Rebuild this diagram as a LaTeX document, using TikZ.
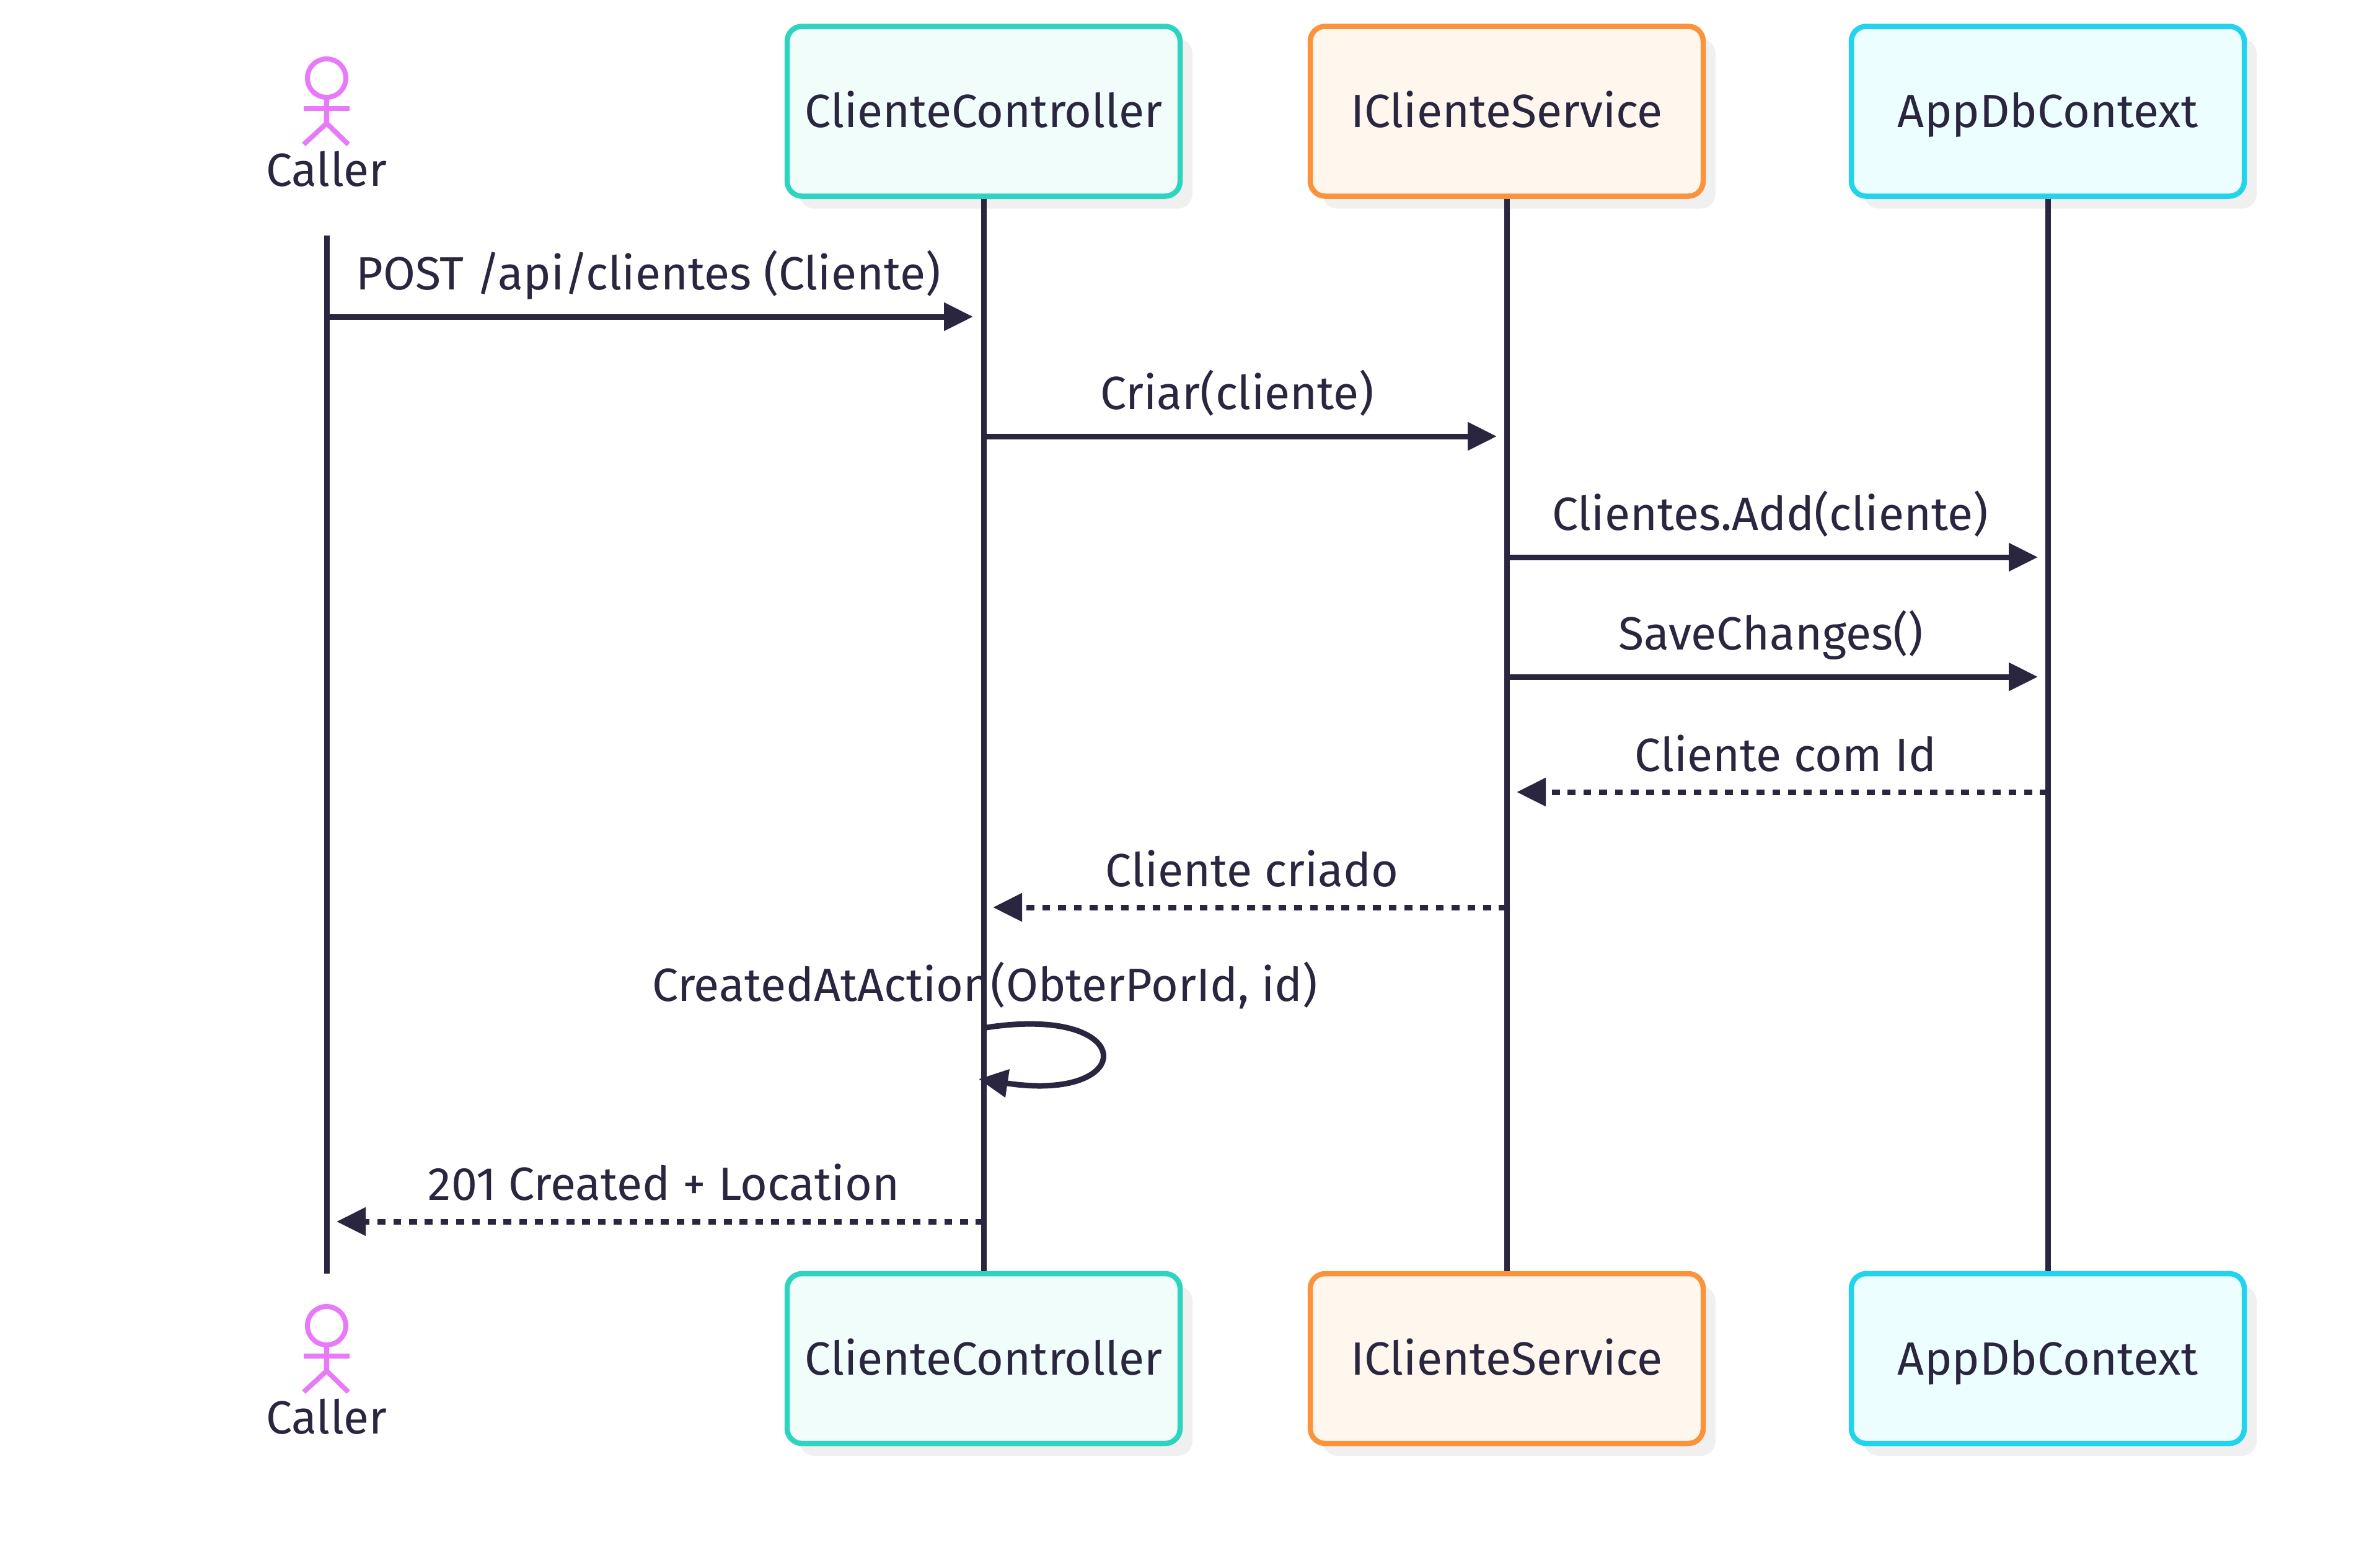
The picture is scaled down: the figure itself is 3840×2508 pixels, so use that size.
\documentclass[tikz,border=0pt]{standalone}
\usepackage{fontspec}
\setmainfont{Fira Sans}
\usetikzlibrary{arrows.meta,shadows}
\definecolor{ink}{HTML}{2A2640}
\definecolor{tealline}{HTML}{2DD4BF}
\definecolor{tealfill}{HTML}{F0FDFA}
\definecolor{orangeline}{HTML}{FB923C}
\definecolor{orangefill}{HTML}{FFF7ED}
\definecolor{cyanline}{HTML}{22D3EE}
\definecolor{cyanfill}{HTML}{ECFEFF}
\definecolor{figure}{HTML}{E879F9}

\begin{document}
\begin{tikzpicture}[x=.1mm,y=.1mm,
 font=\fontsize{21.4}{25}\selectfont,text=ink,
 part/.style={rounded corners=2.4mm,line width=.85mm,minimum width=63.4mm,minimum height=27.4mm,
              inner sep=0pt,text height=5.2mm,text depth=0pt,
              general shadow={shadow xshift=2mm,shadow yshift=-2mm,fill=black!6}},
 ctrl/.style={part,draw=tealline,fill=tealfill},
 svc/.style={part,draw=orangeline,fill=orangefill},
 db/.style={part,draw=cyanline,fill=cyanfill},
 life/.style={draw=ink,line width=.9mm},
 msg/.style={draw=ink,line width=.9mm,-{Triangle[length=4.7mm,width=4.4mm]}},
 reply/.style={msg,dash pattern=on 1.27mm off 1.27mm},
 lab/.style={inner sep=0pt,anchor=base},
 caller figure/.pic={
  \draw[figure,line width=.8mm] (0,0) circle (31);
  \draw[figure,line width=.8mm] (0,-31) -- (0,-73) (-37,-49) -- (37,-49)
   (-37,-107) -- (0,-73) -- (35,-107);
 }]
\useasboundingbox (0,0) rectangle (3840,-2508);

\pic at (527,-126) {caller figure};
\node[lab] (callerA) at (527,-300) {Caller};
\node[ctrl] (ctrlA) at (1587,-179.5) {ClienteController};
\node[svc] (svcA) at (2431,-179.5) {IClienteService};
\node[db] (dbA) at (3304,-179.5) {AppDbContext};

\pic at (527,-2139) {caller figure};
\node[lab] (callerB) at (527,-2313) {Caller};
\node[ctrl] (ctrlB) at (1587,-2192) {ClienteController};
\node[svc] (svcB) at (2431,-2192) {IClienteService};
\node[db] (dbB) at (3304,-2192) {AppDbContext};

\coordinate (callerTop) at (527,-380);
\coordinate (callerEnd) at (527,-2055);
\draw[life] (callerTop) -- (callerEnd);
\draw[life] (ctrlA.south) -- (ctrlB.north);
\draw[life] (svcA.south) -- (svcB.north);
\draw[life] (dbA.south) -- (dbB.north);

\coordinate (postA) at (527,-511);
\coordinate (postB) at (1570,-511);
\draw[msg] (postA) -- (postB);
\node[lab] (postL) at (1046,-467) {POST /api/clientes (Cliente)};

\coordinate (criarA) at (1587,-704);
\coordinate (criarB) at (2415,-704);
\draw[msg] (criarA) -- (criarB);
\node[lab] (criarL) at (1996,-660) {Criar(cliente)};

\coordinate (addA) at (2431,-899);
\coordinate (addB) at (3288,-899);
\draw[msg] (addA) -- (addB);
\node[lab] (addL) at (2856,-855) {Clientes.Add(cliente)};

\coordinate (saveA) at (2431,-1092);
\coordinate (saveB) at (3288,-1092);
\draw[msg] (saveA) -- (saveB);
\node[lab] (saveL) at (2857,-1048) {SaveChanges()};

\coordinate (idA) at (3304,-1278);
\coordinate (idB) at (2447,-1278);
\draw[reply] (idA) -- (idB);
\node[lab] (idL) at (2881,-1244) {Cliente com Id};

\coordinate (novoA) at (2431,-1464);
\coordinate (novoB) at (1602,-1464);
\draw[reply] (novoA) -- (novoB);
\node[lab] (novoL) at (2020,-1430) {Cliente criado};

\coordinate (selfA) at (1591,-1658);
\coordinate (selfB) at (1579,-1741);
\draw[msg] (selfA) .. controls (1838,-1620) and (1838,-1780) .. (selfB);
\node[lab] (selfL) at (1589,-1615) {CreatedAtAction(ObterPorId, id)};

\coordinate (endA) at (1587,-1971);
\coordinate (endB) at (543,-1971);
\draw[reply] (endA) -- (endB);
\node[lab] (endL) at (1071,-1936) {201 Created + Location};
\end{tikzpicture}
\end{document}
